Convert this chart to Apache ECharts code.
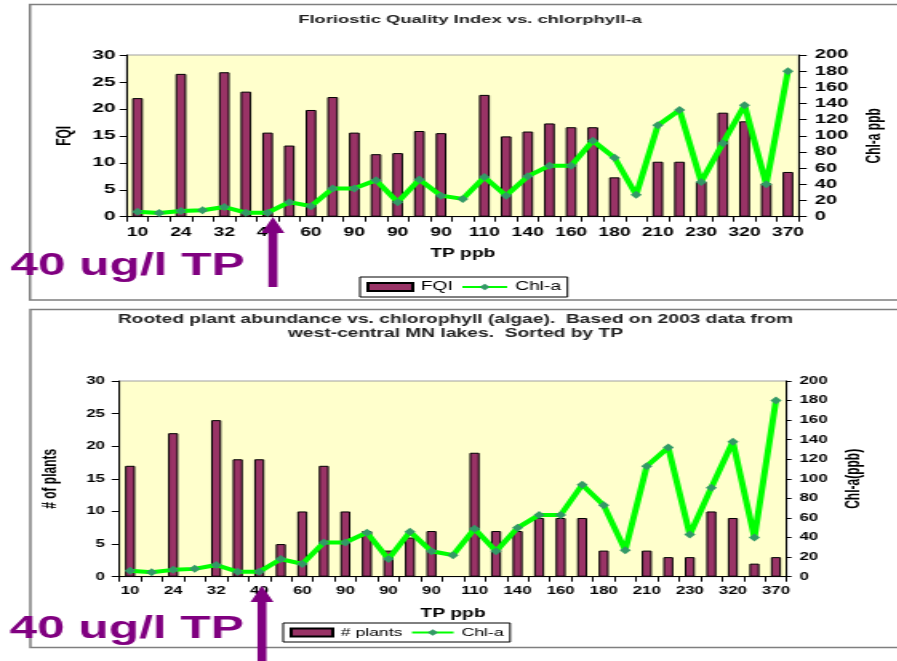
<!DOCTYPE html>
<html>
<head>
<meta charset="utf-8">
<script src="https://cdn.jsdelivr.net/npm/echarts@6/dist/echarts.min.js"></script>
<style>
  html, body { margin: 0; padding: 0; background: #fff; overflow: hidden; }
  #main { width: 561px; height: 661px; transform: scaleX(1.6); transform-origin: 0 0; }
</style>
</head>
<body>
<div id="main"></div>
<script>
// ---- data ----
const categories = ['10','20','24','30','32','37','40','50','60','70','90','90','90','90','90','100',
                    '110','120','140','150','160','170','180','200','210','220','230','280','320','350','370'];
const fqi = [22, null, 26.5, null, 26.8, 23.2, 15.6, 13.2, 19.8, 22.2, 15.6, 11.6, 11.8, 15.9, 15.5, null,
             22.6, 14.9, 15.8, 17.3, 16.6, 16.6, 7.3, null, 10.2, 10.2, 6.5, 19.3, 17.7, 6.2, 8.3];
const plants = [17, null, 22, null, 24, 18, 18, 5, 10, 17, 10, 7, 4, 6, 7, null,
                19, 7, 7, 9, 9, 9, 4, null, 4, 3, 3, 10, 9, 2, 3];
const chlA = [6, 4.5, 7, 8, 12, 5, 5, 18, 13, 35, 35, 45, 18, 46, 26, 22,
              49, 26, 50, 63, 63, 94, 73, 27, 113, 132, 43, 91, 138, 40, 180];
const leftTicks = [0, 30, 5];     // min, max, step
const rightTicks = [0, 200, 20];
const titleTop = 'Floriostic Quality Index vs. chlorphyll-a';
const titleBottom1 = 'Rooted plant abundance vs. chlorophyll (algae).  Based on 2003 data from';
const titleBottom2 = 'west-central MN lakes.  Sorted by TP';
const note = '40 ug/l TP';

// ---- chart ----
const FONT = 'Liberation Sans, Arial, sans-serif';
const chart = echarts.init(document.getElementById('main'), null, { renderer: 'canvas' });

function xAxis(gi, fs, margin, nameGap) {
  return {
    gridIndex: gi, type: 'category', data: categories, boundaryGap: true,
    axisLine: { show: true, lineStyle: { color: '#000', width: 1 } },
    axisTick: { show: true, interval: 0, length: 5, lineStyle: { color: '#000' } },
    axisLabel: { interval: 1, color: '#000', fontWeight: 'bold', fontSize: fs, fontFamily: FONT, margin: margin },
    splitLine: { show: false },
    name: 'TP ppb', nameLocation: 'middle', nameGap: nameGap,
    nameTextStyle: { color: '#000', fontWeight: 'bold', fontSize: 12, fontFamily: FONT }
  };
}
function yAxis(gi, pos, ticks, name, fs, margin, tickLen, nameGap) {
  return {
    gridIndex: gi, type: 'value', position: pos, min: ticks[0], max: ticks[1], interval: ticks[2],
    axisLine: { show: true, lineStyle: { color: '#000', width: 1 } },
    axisTick: { show: true, length: tickLen, lineStyle: { color: '#000' } },
    axisLabel: { color: '#000', fontWeight: 'bold', fontSize: fs, fontFamily: FONT, margin: margin },
    splitLine: { show: false },
    name: name, nameLocation: 'middle', nameGap: nameGap, nameRotate: 90,
    nameTextStyle: { color: '#000', fontWeight: 'bold', fontSize: 12, fontFamily: FONT }
  };
}
const barStyle = { color: '#993366', borderColor: '#000', borderWidth: 1 };
function lineSeries(xi, yi) {
  return {
    name: 'Chl-a', type: 'line', xAxisIndex: xi, yAxisIndex: yi, data: chlA,
    lineStyle: { color: '#00ff00', width: 4 },
    itemStyle: { color: '#339966', borderWidth: 0 },
    symbol: 'diamond', symbolSize: [7, 8], showAllSymbol: true, z: 5
  };
}
function legend(names, left, top, fs, iw) {
  return {
    data: [{ name: names[0], icon: 'rect' }, { name: names[1] }],
    left: left, top: top, orient: 'horizontal',
    itemWidth: iw, itemHeight: 8, itemGap: 5, padding: [4, 4],
    borderColor: '#000', borderWidth: 1, backgroundColor: '#fff',
    textStyle: { color: '#000', fontSize: fs, fontFamily: FONT }, selectedMode: false
  };
}
function arrow(xc, apex, base, bottom) {
  return {
    type: 'polygon', z: 100,
    shape: { points: [[xc, apex], [xc + 7.2, base], [xc + 2.8, base], [xc + 2.8, bottom],
                      [xc - 2.8, bottom], [xc - 2.8, base], [xc - 7.2, base]] },
    style: { fill: '#800080' }
  };
}
function txt(text, x, y, font, fill, align) {
  return { type: 'text', z: 100, x: x, y: y,
    style: { text: text, font: font, fill: fill, align: align, verticalAlign: 'middle' } };
}

const option = {
  animation: false,
  backgroundColor: '#fff',
  grid: [
    { left: 79.2, top: 55, width: 420.4, height: 161.7, show: true, backgroundColor: '#FFFFCC',
      borderColor: '#a0a0a0', borderWidth: 1, containLabel: false },
    { left: 74.6, top: 381, width: 417.1, height: 195.7, show: true, backgroundColor: '#FFFFCC',
      borderColor: '#a0a0a0', borderWidth: 1, containLabel: false }
  ],
  xAxis: [ xAxis(0, 12, 10, 31), xAxis(1, 10.5, 9, 31) ],
  yAxis: [
    yAxis(0, 'left', leftTicks, 'FQI', 13, 7, 4.4, 32),
    yAxis(0, 'right', rightTicks, 'Chl-a ppb', 12.5, 10, 5, 40),
    yAxis(1, 'left', leftTicks, '# of plants', 10.5, 9, 4.8, 37),
    yAxis(1, 'right', rightTicks, 'Chl-a(ppb)', 10.5, 8, 3, 36)
  ],
  legend: [
    legend(['FQI', 'Chl-a'], 225, 277, 12, 28),
    legend(['# plants', 'Chl-a'], 177, 623, 11, 26)
  ],
  series: [
    { name: 'FQI', type: 'bar', xAxisIndex: 0, yAxisIndex: 0, data: fqi, barWidth: 6.7, itemStyle: barStyle },
    lineSeries(0, 1),
    { name: '# plants', type: 'bar', xAxisIndex: 1, yAxisIndex: 2, data: plants, barWidth: 6.3, itemStyle: barStyle },
    lineSeries(1, 3)
  ],
  graphic: [
    { type: 'rect', z: -10, shape: { x: 18.75, y: 4.5, width: 600, height: 295.5 },
      style: { fill: 'none', stroke: '#7f7f7f', lineWidth: 1.5 } },
    { type: 'rect', z: -10, shape: { x: 19, y: 309.5, width: 600, height: 338 },
      style: { fill: 'none', stroke: '#7f7f7f', lineWidth: 1.5 } },
    txt(titleTop, 293.75, 20, 'bold 11.5px ' + FONT, '#222', 'center'),
    txt(titleBottom1, 284.7, 320, 'bold 12px ' + FONT, '#222', 'center'),
    txt(titleBottom2, 284.7, 334, 'bold 12px ' + FONT, '#222', 'center'),
    txt(note, 6.5, 266, 'bold 31px ' + FONT, '#800080', 'left'),
    txt(note, 6, 629, 'bold 31px ' + FONT, '#800080', 'left'),
    arrow(170.6, 217, 233, 287),
    arrow(163.75, 586, 602, 665)
  ]
};
chart.setOption(option);
</script>
</body>
</html>
